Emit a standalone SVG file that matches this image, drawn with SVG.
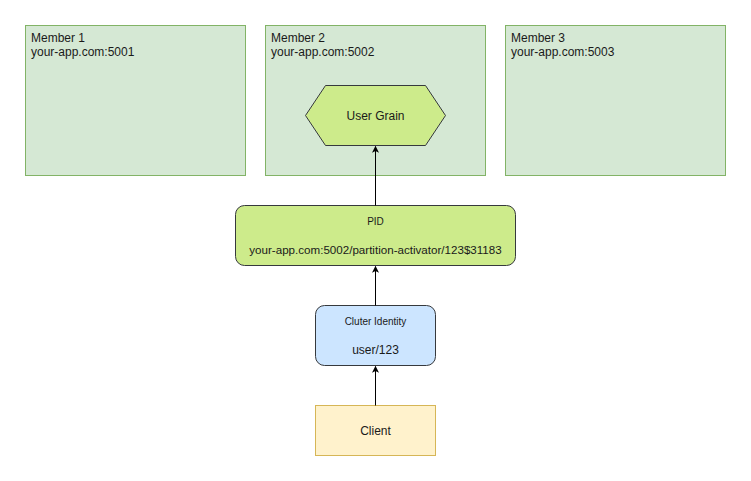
<svg xmlns="http://www.w3.org/2000/svg" width="751" height="481" viewBox="0 0 751 481">
  <defs>
    <marker id="arrow" viewBox="0 0 10 10" refX="9" refY="5" markerWidth="7" markerHeight="7" orient="auto" markerUnits="userSpaceOnUse">
      <path d="M0,0 L10,5 L0,10 L2.5,5 Z" fill="#000"/>
    </marker>
  </defs>
  <style>
    text { font-family: Helvetica, "Liberation Sans", Arial, sans-serif; fill: #1a1a1a; }
    .member rect { fill: #d5e8d4; stroke: #82b366; stroke-width: 1; }
    .member text { font-size: 12px; }
    .green { fill: #cdeb8b; stroke: #36393d; stroke-width: 1; }
    .blue { fill: #cce5ff; stroke: #36393d; stroke-width: 1; }
    .yellow { fill: #fff2cc; stroke: #d6b656; stroke-width: 1; }
    .c { text-anchor: middle; }
    .big { font-size: 12px; }
    .small { font-size: 10px; }
    .edge { fill: none; stroke: #000; stroke-width: 1; marker-end: url(#arrow); }
  </style>
  <rect width="751" height="481" fill="#ffffff"/>

  <g id="member1" class="member">
    <rect x="25.5" y="25.5" width="220" height="150"/>
    <text x="31" y="42">Member 1</text>
    <text x="31" y="56">your-app.com:5001</text>
  </g>
  <g id="member2" class="member">
    <rect x="265.5" y="25.5" width="220" height="150"/>
    <text x="271" y="42">Member 2</text>
    <text x="271" y="56">your-app.com:5002</text>
  </g>
  <g id="member3" class="member">
    <rect x="505.5" y="25.5" width="220" height="150"/>
    <text x="511" y="42">Member 3</text>
    <text x="511" y="56">your-app.com:5003</text>
  </g>

  <g id="user-grain">
    <polygon class="green" points="305.5,115.5 325.5,85.5 425.5,85.5 445.5,115.5 425.5,145.5 325.5,145.5"/>
    <text class="c big" x="375.5" y="119.5">User Grain</text>
  </g>

  <g id="pid">
    <rect class="green" x="235.5" y="205.5" width="280" height="60" rx="9" ry="9"/>
    <text class="c small" x="375.5" y="225">PID</text>
    <text class="c big" x="375.5" y="254" style="font-size:11.6px">your-app.com:5002/partition-activator/123$31183</text>
  </g>

  <g id="cluster-identity">
    <rect class="blue" x="315.5" y="305.5" width="120" height="60" rx="9" ry="9"/>
    <text class="c small" x="375.5" y="325">Cluter Identity</text>
    <text class="c big" x="375.5" y="354">user/123</text>
  </g>

  <g id="client">
    <rect class="yellow" x="315.5" y="405.5" width="120" height="50"/>
    <text class="c big" x="375.5" y="434.5">Client</text>
  </g>

  <g id="connectors">
    <line class="edge" x1="375.5" y1="405.5" x2="375.5" y2="366.5"/>
    <line class="edge" x1="375.5" y1="305.5" x2="375.5" y2="266.5"/>
    <line class="edge" x1="375.5" y1="205.5" x2="375.5" y2="146.5"/>
  </g>
</svg>
